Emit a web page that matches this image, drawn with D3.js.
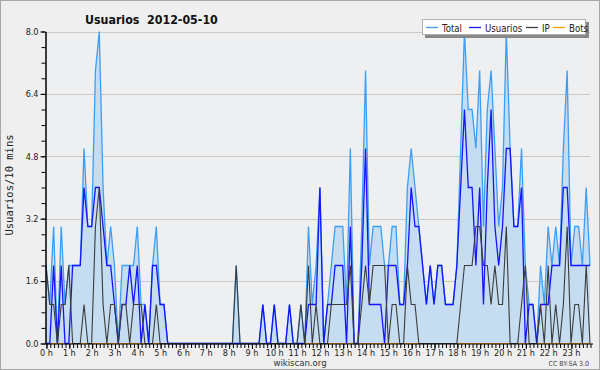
<!DOCTYPE html>
<html><head><meta charset="utf-8">
<script src="https://cdn.jsdelivr.net/npm/d3@7"></script>
<style>
html,body{margin:0;padding:0;background:#fff;}
svg{display:block;}
</style></head><body>
<svg id="c" width="600" height="370"></svg>
<script>
const chartTitle = "Usuarios  2012-05-10";
const yLabel = "Usuarios/10 mins";
const footerCenter = "wikiscan.org";
const footerRight = "CC BY-SA 3.0";
const seriesNames = ["Total", "Usuarios", "IP", "Bots"];
const hourLabels = ["0 h","1 h","2 h","3 h","4 h","5 h","6 h","7 h","8 h","9 h","10 h","11 h",
  "12 h","13 h","14 h","15 h","16 h","17 h","18 h","19 h","20 h","21 h","22 h","23 h"];
const yTickValues = [0, 1.6, 3.2, 4.8, 6.4, 8.0];

// one value per 10 minutes, 0h00 .. 23h50
const total = [
  2,1,3,0,3,1,2,2,2,2,
  5,3,3,7,8,4,2,3,2,0,
  2,2,2,2,3,1,1,0,2,3,
  1,1,0,0,0,0,0,0,0,0,
  0,0,0,0,0,0,0,0,0,0,
  2,0,0,0,0,0,0,1,0,0,
  1,0,0,0,1,0,0,1,0,3,
  1,2,4,0,1,2,3,3,3,1,
  5,0,0,3,7,2,3,3,3,2,
  2,3,3,1,1,4,5,4,3,2,
  1,2,1,2,2,1,1,1,2,5,
  8,6,6,5,7,3,6,7,5,3,
  4,8,5,3,3,5,2,1,1,0,
  2,1,3,2,3,2,5,7,2,3,
  3,2,4,2];
const usuarios = [
  0,0,2,0,2,0,0,2,2,2,
  4,3,3,4,4,3,2,2,1,0,
  1,1,2,1,2,0,1,0,2,2,
  1,1,0,0,0,0,0,0,0,0,
  0,0,0,0,0,0,0,0,0,0,
  0,0,0,0,0,0,0,1,0,0,
  1,0,0,0,1,0,0,0,0,1,
  1,1,4,0,1,1,2,2,2,0,
  3,0,0,2,5,1,1,1,1,0,
  2,2,2,1,1,2,4,3,3,2,
  1,2,1,2,2,1,1,1,2,4,
  6,4,4,2,4,1,4,6,3,2,
  3,5,5,3,3,4,0,1,1,0,
  1,1,1,2,2,2,4,4,2,2,
  2,2,2,2];
const ip = [
  2,1,1,0,1,1,2,0,0,0,
  1,0,0,3,4,1,0,1,1,0,
  1,1,0,1,1,1,0,0,0,1,
  0,0,0,0,0,0,0,0,0,0,
  0,0,0,0,0,0,0,0,0,0,
  2,0,0,0,0,0,0,0,0,0,
  0,0,0,0,0,0,0,1,0,2,
  0,1,0,0,0,1,1,1,1,1,
  2,0,0,1,2,1,2,2,2,2,
  0,1,1,0,0,2,1,1,0,0,
  0,0,0,0,0,0,0,0,0,1,
  2,2,2,3,3,2,2,1,2,1,
  1,3,0,0,0,1,2,0,0,0,
  1,0,2,0,1,0,1,3,0,1,
  1,0,2,0];
const bots = [
  0,0,0,0,0,0,0,0,0,0, 0,0,0,0,0,0,0,0,0,0,
  0,0,0,0,0,0,0,0,0,0, 0,0,0,0,0,0,0,0,0,0,
  0,0,0,0,0,0,0,0,0,0, 0,0,0,0,0,0,0,0,0,0,
  0,0,0,0,0,0,0,0,0,0, 0,0,0,0,0,0,0,0,0,0,
  0,0,0,0,0,0,0,0,0,0, 0,0,0,0,0,0,0,0,0,0,
  0,0,0,0,0,0,0,0,0,0, 0,0,0,0,0,0,0,0,0,0,
  0,0,0,0,0,0,0,0,0,0, 0,0,0,0,0,0,0,0,0,0,
  0,0,0,0];

const colors = {Total:"#3d9ef5", Usuarios:"#1414ff", IP:"#3c3c3c", Bots:"#ffa000"};
const fillColor = "#c6ddf1";
const FONT = "'DejaVu Sans Condensed','DejaVu Sans',sans-serif";

const svg = d3.select("#c");
const W = 600, H = 370;
const pLeft = 46, pRight = 590, pTop = 31.5, pBottom = 343.5;

svg.append("rect").attr("x",0.5).attr("y",0.5).attr("width",W-1).attr("height",H-1)
  .attr("fill","#efefef").attr("stroke","#a8a8a8");

const x = d3.scaleLinear().domain([0, total.length-1]).range([pLeft, pRight]);
const y = d3.scaleLinear().domain([0, 8]).range([pBottom, pTop]);

svg.append("rect").attr("x",pLeft).attr("y",pTop).attr("width",pRight-pLeft).attr("height",pBottom-pTop)
  .attr("fill","#edeff1");

// grid
svg.append("g").selectAll("line").data(yTickValues.filter(v=>v>0)).join("line")
  .attr("x1",pLeft).attr("x2",pRight)
  .attr("y1",d=>Math.round(y(d))+0.5).attr("y2",d=>Math.round(y(d))+0.5)
  .attr("stroke","#c9c9c9").attr("stroke-width",1);

const idx = d3.range(total.length);
const area = d3.area().x(i=>x(i)).y0(y(0)).y1(i=>y(total[i]));
svg.append("path").datum(idx).attr("d",area).attr("fill",fillColor);

function drawLine(arr, color, w){
  const line = d3.line().x(i=>x(i)).y(i=>y(arr[i]));
  svg.append("path").datum(idx).attr("d",line).attr("fill","none")
    .attr("stroke",color).attr("stroke-width",w).attr("stroke-linejoin","miter");
}
drawLine(bots, colors.Bots, 1.2);
drawLine(total, colors.Total, 1.3);
drawLine(usuarios, colors.Usuarios, 1.3);
drawLine(ip, colors.IP, 1.1);

// y axis
const yMinor = d3.range(0, 8.001, 0.4);
const gy = svg.append("g").attr("transform",`translate(${pLeft-0.5},0)`);
gy.call(d3.axisLeft(y).tickValues(yMinor).tickSize(4).tickSizeOuter(0).tickFormat(""));
const gy2 = svg.append("g").attr("transform",`translate(${pLeft-0.5},0)`);
gy2.call(d3.axisLeft(y).tickValues(yTickValues).tickSize(5).tickSizeOuter(0).tickFormat(d3.format(".1f")));
[gy,gy2].forEach(g=>{
  g.selectAll("path,line").attr("stroke","#000").attr("stroke-width",1);
  g.selectAll("text").attr("font-family",FONT).attr("font-size",9).attr("fill","#222").attr("dx",1);
});

// x axis
const gx = svg.append("g").attr("transform",`translate(0,${pBottom+0.5})`);
gx.call(d3.axisBottom(x).tickValues(idx).tickSize(4).tickSizeOuter(0).tickFormat(""));
gx.append("line").attr("x1",pLeft-0.5).attr("x2",pRight+3).attr("y1",0).attr("y2",0).attr("stroke","#000");
const gx2 = svg.append("g").attr("transform",`translate(0,${pBottom+0.5})`);
gx2.call(d3.axisBottom(x).tickValues(hourLabels.map((_,h)=>h*6)).tickSize(5).tickSizeOuter(0)
  .tickFormat((d,i)=>hourLabels[i]));
[gx,gx2].forEach(g=>{
  g.select(".domain").remove();
  g.selectAll("line").attr("stroke","#000").attr("stroke-width",1);
  g.selectAll("text").attr("font-family",FONT).attr("font-size",9).attr("fill","#222").attr("dy","0.45em");
});
gx.selectAll(".tick line").attr("transform","translate(0.5,0)");
gx2.selectAll(".tick line").attr("transform","translate(0.5,0)");

// title
svg.append("text").attr("x",85).attr("y",24).text(chartTitle)
  .attr("font-family",FONT).attr("font-weight","bold").attr("font-size",12.3).attr("fill","#111")
  .style("white-space","pre").attr("xml:space","preserve");

// y label
svg.append("text").attr("transform",`translate(13,185) rotate(-90)`)
  .attr("text-anchor","middle").text(yLabel)
  .attr("font-family","'DejaVu Sans Mono',monospace").attr("font-size",10.5).attr("fill","#222");

// footer
svg.append("text").attr("x",300).attr("y",366).attr("text-anchor","middle").text(footerCenter)
  .attr("font-family",FONT).attr("font-size",9.5).attr("fill","#333");
svg.append("text").attr("x",589).attr("y",366).attr("text-anchor","end").text(footerRight)
  .attr("font-family",FONT).attr("font-size",7).attr("fill","#444");

// legend
const lg = svg.append("g");
lg.append("rect").attr("x",425).attr("y",22).attr("width",164).attr("height",16).attr("fill","#888");
lg.append("rect").attr("x",422.5).attr("y",19.5).attr("width",163).attr("height",15)
  .attr("fill","#fff").attr("stroke","#b0b0b0");
const legendX = [426, 469, 526, 553];
seriesNames.forEach((n,i)=>{
  lg.append("line").attr("x1",legendX[i]).attr("x2",legendX[i]+12).attr("y1",27.5).attr("y2",27.5)
    .attr("stroke",colors[n]).attr("stroke-width",1.3);
  lg.append("text").attr("x",legendX[i]+16).attr("y",31.5).text(n)
    .attr("font-family",FONT).attr("font-size",9.6).attr("fill","#222");
});
</script>
</body></html>
